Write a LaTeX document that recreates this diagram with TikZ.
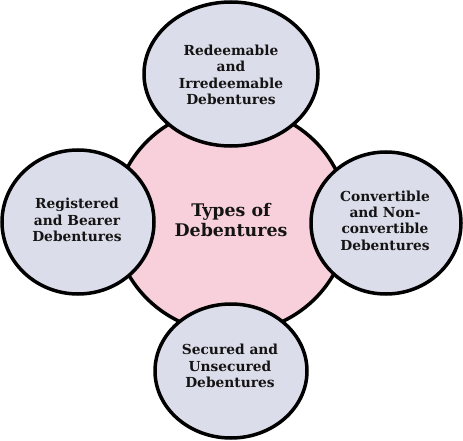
\documentclass[tikz,border=0pt]{standalone}
\usepackage{fontspec}
\setmainfont{DejaVu Serif}
\definecolor{pinkfill}{HTML}{F8D0DC}
\definecolor{lavfill}{HTML}{DCDDEA}
\definecolor{txt}{HTML}{141414}
\begin{document}
\begin{tikzpicture}[x=1pt,y=-1pt,
  outer/.style={draw=black,line width=3.5pt,fill=lavfill},
  lbl/.style={align=center,font=\bfseries\fontsize{13.8}{16.4}\selectfont,text=txt},
  clbl/.style={align=center,font=\bfseries\fontsize{17.4}{20}\selectfont,text=txt}]
\useasboundingbox (0,0) rectangle (463,441);
\draw[draw=black,line width=3.5pt,fill=pinkfill] (231,220) ellipse [x radius=117,y radius=113];
\node[clbl] (c) at (231,220) {Types of\\Debentures};
\draw[outer] (231,74) ellipse [x radius=87,y radius=72];
\node[lbl] (t) at (231,75) {Redeemable\\and\\Irredeemable\\Debentures};
\draw[outer] (78,222) ellipse [x radius=76,y radius=72];
\node[lbl] (l) at (77,220) {Registered\\and Bearer\\Debentures};
\draw[outer] (386,223) ellipse [x radius=75,y radius=71];
\node[lbl] (r) at (385,220.5) {Convertible\\and Non-\\convertible\\Debentures};
\draw[outer] (231,371) ellipse [x radius=76,y radius=67];
\node[lbl] (b) at (230,366) {Secured and\\Unsecured\\Debentures};
\end{tikzpicture}
\end{document}
